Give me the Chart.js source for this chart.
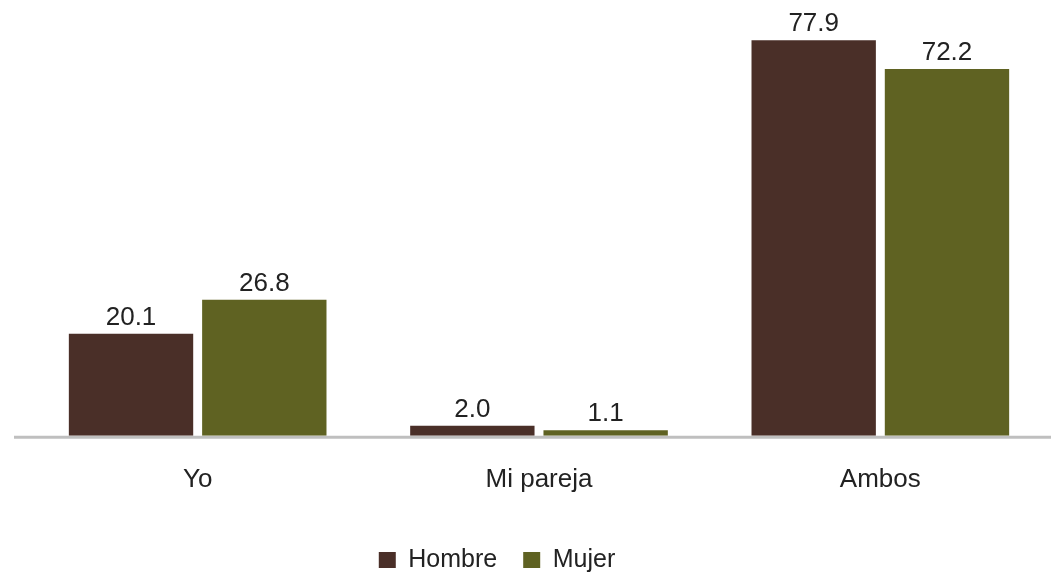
<!DOCTYPE html>
<html>
<head>
<meta charset="utf-8">
<script src="https://cdn.jsdelivr.net/npm/chart.js@4/dist/chart.umd.min.js"></script>
<style>
  html, body { margin: 0; padding: 0; background: #ffffff; }
  #wrap { position: relative; width: 1051px; height: 576px; }
</style>
</head>
<body>
<div id="wrap"><canvas id="chart"></canvas></div>
<script>
const categories = ["Yo", "Mi pareja", "Ambos"];
const seriesNames = ["Hombre", "Mujer"];
const hombreValues = [20.1, 2.0, 77.9];
const mujerValues = [26.8, 1.1, 72.2];
const seriesColors = ["#4a2f28", "#5f6222"];

const textColor = "#222222";
const fontFamily = "'Liberation Sans', Arial, Helvetica, sans-serif";

// value labels above each bar
const valueLabels = {
  id: "valueLabels",
  afterDatasetsDraw(chart) {
    const ctx = chart.ctx;
    ctx.save();
    ctx.font = "26px " + fontFamily;
    ctx.fillStyle = textColor;
    ctx.textAlign = "center";
    ctx.textBaseline = "alphabetic";
    chart.data.datasets.forEach((ds, i) => {
      chart.getDatasetMeta(i).data.forEach((bar, j) => {
        ctx.fillText(ds.data[j].toFixed(1), bar.x, bar.y - 9);
      });
    });
    ctx.restore();
  }
};

// grey baseline under the bars, a bit longer than the plot on the left
const baseline = {
  id: "baseline",
  beforeDatasetsDraw(chart, args, opts) {
    const ctx = chart.ctx;
    const y = chart.scales.y.getPixelForValue(0) + 1.5;
    ctx.save();
    ctx.strokeStyle = opts.color;
    ctx.lineWidth = opts.width;
    ctx.beginPath();
    ctx.moveTo(chart.chartArea.left - opts.overhang, y);
    ctx.lineTo(chart.chartArea.right, y);
    ctx.stroke();
    ctx.restore();
  }
};

// move the legend a little from where the layout puts it
const legendNudge = {
  id: "legendNudge",
  afterLayout(chart, args, opts) {
    const lg = chart.legend;
    if (!lg) return;
    lg.left += opts.dx;
    lg.right += opts.dx;
    lg.top += opts.dy;
    lg.bottom += opts.dy;
  }
};

new Chart(document.getElementById("chart"), {
  type: "bar",
  data: {
    labels: categories,
    datasets: [
      {
        label: seriesNames[0],
        data: hombreValues,
        backgroundColor: seriesColors[0],
        borderWidth: 0,
        categoryPercentage: 0.781,
        barPercentage: 0.933
      },
      {
        label: seriesNames[1],
        data: mujerValues,
        backgroundColor: seriesColors[1],
        borderWidth: 0,
        categoryPercentage: 0.781,
        barPercentage: 0.933
      }
    ]
  },
  options: {
    responsive: true,
    maintainAspectRatio: false,
    animation: false,
    layout: {
      padding: { left: 27, right: 0, top: 29.5, bottom: 0 }
    },
    scales: {
      x: {
        grid: { display: false, drawTicks: false },
        border: { display: false },
        ticks: {
          color: textColor,
          font: { family: fontFamily, size: 26 },
          padding: 28.5
        },
        afterFit(scale) {
          scale.height -= 9;
        }
      },
      y: {
        display: false,
        min: 0,
        max: 80
      }
    },
    plugins: {
      legend: {
        position: "bottom",
        labels: {
          color: textColor,
          font: { family: fontFamily, size: 25 },
          boxWidth: 17,
          boxHeight: 16,
          padding: 26
        }
      },
      tooltip: { enabled: false },
      baseline: { color: "#bfbfbf", width: 3, overhang: 13 },
      legendNudge: { dx: -42, dy: 6.5 }
    }
  },
  plugins: [valueLabels, baseline, legendNudge]
});
</script>
</body>
</html>
